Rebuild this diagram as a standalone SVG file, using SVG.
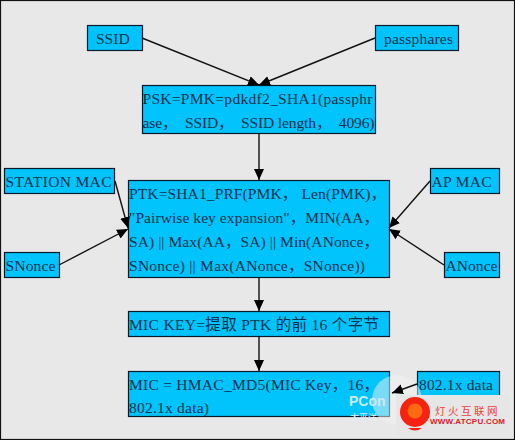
<svg xmlns="http://www.w3.org/2000/svg" width="515" height="440" viewBox="0 0 515 440">
<style>
.b{fill:#00c4fb;stroke:#0a1a2a;stroke-width:1.2}
text{font-family:"Liberation Serif","Noto Sans CJK SC",serif;font-size:15.5px;fill:#07304f}
.c line{stroke:#111;stroke-width:1.4;marker-end:url(#a)}
</style>
<defs><marker id="a" markerUnits="userSpaceOnUse" markerWidth="12" markerHeight="12" refX="11" refY="5" orient="auto"><path d="M0 0L11 5L0 10z" fill="#000"/></marker></defs>
<rect x="0.500" y="0.500" width="514" height="439" fill="#e8e8e8" stroke="#111" stroke-width="1.2"/>
<g id="ssid"><rect class="b" x="87.500" y="25.500" width="55" height="25"/><text x="96" y="44">SSID</text></g>
<g id="passphares"><rect class="b" x="375.500" y="25.500" width="83" height="25"/><text x="384" y="44" textLength="69">passphares</text></g>
<g id="psk"><rect class="b" x="142.500" y="85.500" width="233" height="48"/><text x="142.500" y="104" textLength="230">PSK=PMK=pdkdf2_SHA1(passphr</text><text x="142.500" y="128" textLength="232" xml:space="preserve">ase，  SSID，  SSID length，  4096)</text></g>
<g id="station-mac"><rect class="b" x="4.500" y="168.500" width="110" height="25"/><text x="5.500" y="187" textLength="106">STATION MAC</text></g>
<g id="ap-mac"><rect class="b" x="430.500" y="168.500" width="69" height="25"/><text x="431.500" y="187" textLength="60">AP MAC</text></g>
<g id="ptk"><rect class="b" x="128.500" y="180.500" width="261" height="97"/>
<text x="129" y="199" textLength="257">PTK=SHA1_PRF(PMK，  Len(PMK)，</text>
<text x="129" y="223" textLength="250">"Pairwise key expansion"，MIN(AA，</text>
<text x="129" y="247" textLength="250">SA) || Max(AA，SA) || Min(ANonce，</text>
<text x="129" y="271" textLength="236">SNonce) || Max(ANonce，SNonce))</text></g>
<g id="snonce"><rect class="b" x="4.500" y="252.500" width="55" height="25"/><text x="5.500" y="271" textLength="50">SNonce</text></g>
<g id="anonce"><rect class="b" x="444.500" y="252.500" width="55" height="25"/><text x="445.500" y="271" textLength="52">ANonce</text></g>
<g id="mic-key"><rect class="b" x="128.500" y="311.500" width="261" height="25"/><text x="129" y="330" textLength="250">MIC KEY=提取 PTK 的前 16 个字节</text></g>
<g id="mic"><rect class="b" x="128.500" y="371.500" width="261" height="45"/><text x="129" y="390" textLength="250">MIC = HMAC_MD5(MIC Key，16，</text><text x="129" y="413" textLength="80">802.1x data)</text></g>
<g id="data"><rect class="b" x="417.500" y="371.500" width="82" height="25"/><text x="419" y="390" textLength="74">802.1x data</text></g>
<circle cx="397" cy="400" r="25" fill="#f2f2f2" opacity=".5"/>
<g class="c" id="connectors">
<line x1="142" y1="38" x2="259" y2="85"/>
<line x1="375" y1="38" x2="259" y2="85"/>
<line x1="259" y1="133" x2="259" y2="180"/>
<line x1="115" y1="181" x2="128" y2="228"/>
<line x1="59" y1="265" x2="128" y2="229"/>
<line x1="430" y1="181" x2="389" y2="228"/>
<line x1="444" y1="265" x2="389" y2="229"/>
<line x1="259" y1="277" x2="259" y2="311"/>
<line x1="259" y1="336" x2="259" y2="371"/>
<line x1="417" y1="384" x2="392" y2="393"/>
</g>
<g id="watermark">
<text x="349" y="406" style="font-family:'Liberation Sans',sans-serif;font-size:14px;font-weight:700;fill:#cfe9f3">PCon</text>
<text x="350" y="421" style="font-family:'Noto Sans CJK SC',sans-serif;font-size:9px;fill:#e4eef2">太平洋</text>
<rect x="396" y="395" width="114" height="40" fill="#e6e6e6"/>
<circle cx="415" cy="412" r="15" fill="#f5230f"/>
<circle cx="415" cy="411" r="7.500" fill="#f96a12"/>
<path d="M408 428Q415 433 422 428z" fill="#f5230f"/>
<text x="435" y="415" style="font-family:'Noto Sans CJK SC',sans-serif;font-size:10.500px;letter-spacing:2.500px;fill:#e9433a">灯火互联网</text>
<text x="430" y="424" textLength="75" style="font-family:'Liberation Sans',sans-serif;font-size:8px;font-weight:700;fill:#d8232a">WWW.ATCPU.COM</text>
</g>
</svg>
